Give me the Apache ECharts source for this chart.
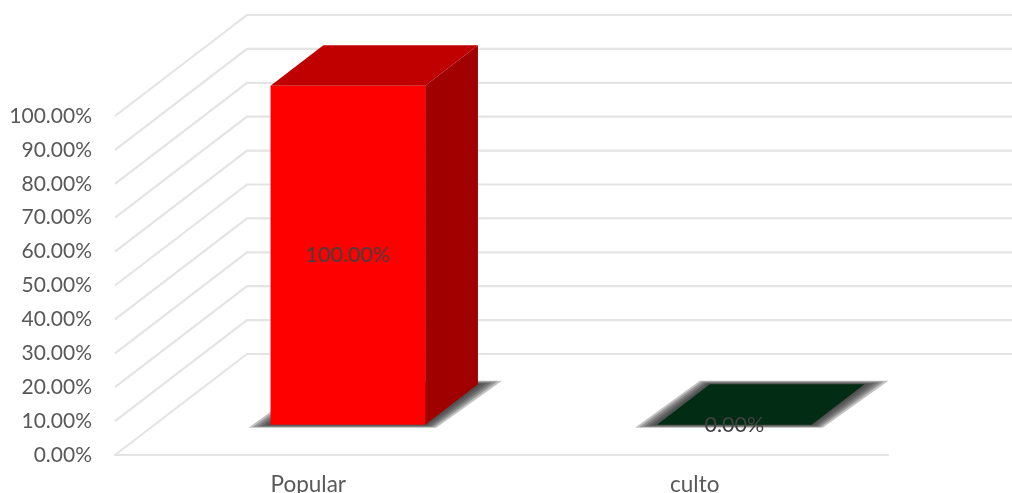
<!DOCTYPE html>
<html>
<head>
<meta charset="utf-8">
<style>html,body{margin:0;padding:0;background:#fff}#c{width:1012px;height:493px}</style>
<script src="https://cdn.jsdelivr.net/npm/echarts@6/dist/echarts.min.js"></script>
</head>
<body>
<div id="c"></div>
<script>
const categories = ['Popular', 'culto'];
const seriesValues = [100, 0];
const barColors = [
  { front: '#ff0000', top: '#c00000', side: '#a00000' },
  { front: '#022d14', top: '#022d14', side: '#022d14' }
];
const tickValues = [0, 10, 20, 30, 40, 50, 60, 70, 80, 90, 100];

const FONT = 'Lato';
const depthX = 132, depthY = -101;
const nearD = 0.3, farD = 0.7, barRatio = 0.4;
const shadowSteps = [1, 0.8, 0.6, 0.4, 0.2];

const chart = echarts.init(document.getElementById('c'), null, { renderer: 'canvas' });

function renderWall(params, api) {
  const cs = params.coordSys;
  const v = api.value(0);
  const y = api.coord([0, v])[1];
  const x = cs.x;
  return {
    type: 'polyline',
    silent: true,
    shape: { points: [[x, y], [x + depthX, y + depthY], [x + depthX + cs.width, y + depthY]] },
    style: { fill: 'none', stroke: '#e4e4e4', lineWidth: 2.2 }
  };
}

function renderBar(params, api) {
  const i = api.value(0), val = api.value(1);
  const band = api.size([1, 0])[0];
  const w = band * barRatio;
  const c = api.coord([i, val]);
  const b = api.coord([i, 0]);
  const nx = depthX * nearD, ny = depthY * nearD;
  const fx = depthX * farD, fy = depthY * farD;
  const x0 = c[0] - w / 2 + nx, x1 = c[0] + w / 2 + nx;
  const yt = c[1] + ny, yb = b[1] + ny;
  const dx = fx - nx, dy = fy - ny;
  const col = barColors[i];
  const poly = (pts, fill, extra) => ({
    type: 'polygon', silent: true, shape: { points: pts },
    style: Object.assign({ fill: fill }, extra || {})
  });
  const children = shadowSteps.map(k => poly([
    [x0 - 22 * k, yb + 3 * k],
    [x1 + 11 * k, yb + 3 * k],
    [x1 + dx + 24 * k, yb + dy - 3.5 * k],
    [x0 + dx - 10 * k, yb + dy - 3.5 * k]
  ], 'rgba(50,50,50,0.27)', { shadowBlur: 2, shadowColor: 'rgba(50,50,50,0.2)' }));
  children.push(poly([[x0, yt], [x1, yt], [x1 + dx, yt + dy], [x0 + dx, yt + dy]], col.top));
  if (val > 0) {
    children.push(poly([[x1, yt], [x1 + dx, yt + dy], [x1 + dx, yb + dy], [x1, yb]], col.side));
    children.push(poly([[x0, yt], [x1, yt], [x1, yb], [x0, yb]], col.front));
  }
  children.push({
    type: 'text', silent: true,
    style: {
      x: (x0 + x1) / 2, y: (yt + yb) / 2,
      text: val.toFixed(2) + '%',
      fill: '#404040', font: '21.5px ' + FONT,
      align: 'center', verticalAlign: 'middle'
    }
  });
  return { type: 'group', children: children };
}

chart.setOption({
  animation: false,
  backgroundColor: '#ffffff',
  grid: { left: 115, top: 116, width: 773, height: 339, containLabel: false, outerBoundsMode: 'none' },
  xAxis: {
    type: 'category',
    data: categories,
    axisTick: { show: false },
    axisLine: { show: true, lineStyle: { color: '#e4e4e4', width: 2.2 } },
    axisLabel: { color: '#595959', fontFamily: FONT, fontSize: 22.5, margin: 18 },
    splitLine: { show: false }
  },
  yAxis: {
    type: 'value', min: 0, max: 100, interval: 10,
    axisLine: { show: false }, axisTick: { show: false }, splitLine: { show: false },
    axisLabel: {
      color: '#595959', fontFamily: FONT, fontSize: 21, margin: 23,
      formatter: v => v.toFixed(2) + '%'
    }
  },
  series: [
    {
      type: 'custom', coordinateSystem: 'cartesian2d', clip: false, z: 1,
      renderItem: renderWall,
      encode: { y: 0 },
      data: tickValues.map(v => [v])
    },
    {
      type: 'custom', coordinateSystem: 'cartesian2d', clip: false, z: 2,
      renderItem: renderBar,
      encode: { x: 0, y: 1 },
      data: seriesValues.map((v, i) => [i, v])
    }
  ]
});
</script>
</body>
</html>
